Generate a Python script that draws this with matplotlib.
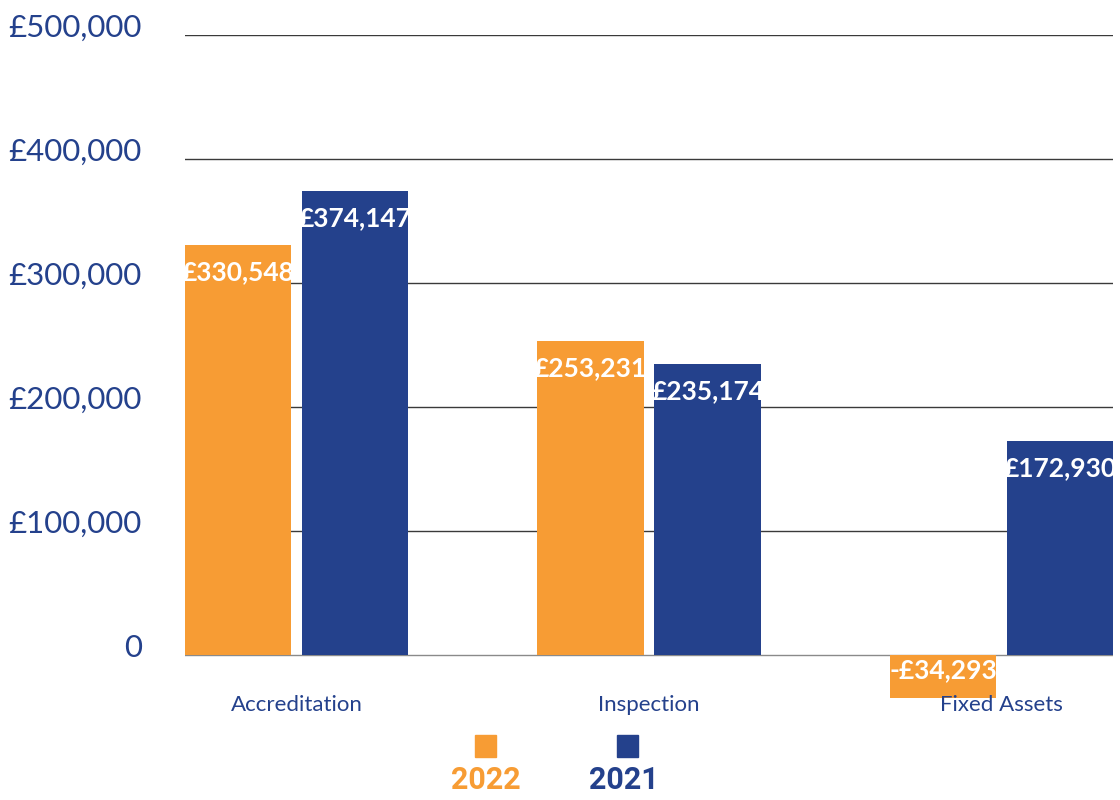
import numpy as np
import matplotlib.pyplot as plt
from matplotlib.patches import Rectangle
from matplotlib.transforms import ScaledTranslation

# Datos
categories = ["Accreditation", "Inspection", "Fixed Assets"]
values_2022 = [330548, 253231, -34293]
values_2021 = [374147, 235174, 172930]
series_names = ["2022", "2021"]
yticks = [0, 100000, 200000, 300000, 400000, 500000]
ytick_labels = ["0", "£100,000", "£200,000", "£300,000", "£400,000", "£500,000"]

orange = "#F79C34"
blue = "#24418C"

fig = plt.figure(figsize=(11.2, 8), dpi=100)
ax = fig.add_axes([185 / 1120, 1 - 705 / 800, 928 / 1120, 670 / 800])

x = np.arange(len(categories))
width = 0.301
shift = 0.166

bars_a = ax.bar(x - shift, values_2022, width, color=orange, zorder=3)
bars_b = ax.bar(x + shift, values_2021, width, color=blue, zorder=3)

ax.set_xlim(-shift - width / 2, len(categories) - 1 + shift + width / 2)
ax.set_ylim(-40000, 500000)

# Líneas de la cuadrícula
for t in yticks:
    ax.axhline(t, color="#3a3a3a" if t else "#8a8a8a", lw=1, zorder=1)

ax.set_yticks(yticks)
ax.set_yticklabels(ytick_labels, fontsize=22.5, color=blue, family="Lato")
ax.tick_params(axis="y", length=0, pad=31)
offset = ScaledTranslation(0, 10 / 100, fig.dpi_scale_trans)
for lab in ax.get_yticklabels():
    lab.set_transform(lab.get_transform() + offset)

ax.set_xticks([])
for s in ax.spines.values():
    s.set_visible(False)

# Etiquetas de categorías
for i, cat in enumerate(categories):
    ax.text(i, 0, cat, transform=ax.get_xaxis_transform(), ha="center",
            va="center", fontsize=16, color=blue, family="Lato")

# Etiquetas de valores dentro de las barras
for bars, vals in [(bars_a, values_2022), (bars_b, values_2021)]:
    for bar, v in zip(bars, vals):
        txt = f"£{v:,}" if v >= 0 else f"-£{abs(v):,}"
        cx = bar.get_x() + bar.get_width() / 2
        if v >= 0:
            t = ax.annotate(txt, (cx, v), xytext=(0, -11), textcoords="offset points",
                            ha="center", va="top", color="white", fontsize=19,
                            fontweight="bold", family="Lato", zorder=4)
        else:
            t = ax.annotate(txt, (cx, 0), xytext=(0, -2), textcoords="offset points",
                            ha="center", va="top", color="white", fontsize=19,
                            fontweight="bold", family="Lato", zorder=4)
        t.set_clip_path(bar)

# Leyenda manual
legend_pos = [(475, 486), (617, 624)]
for (sx, tx), name, col in zip(legend_pos, series_names, [orange, blue]):
    fig.add_artist(Rectangle((sx / 1120, 1 - 757 / 800), 21 / 1120, 22 / 800,
                             color=col, transform=fig.transFigure))
    fig.text(tx / 1120, 1 - 780 / 800, name, ha="center", va="center",
             fontsize=22, fontweight="bold", color=col, family="Roboto")

fig.savefig("out.png", dpi=100)
